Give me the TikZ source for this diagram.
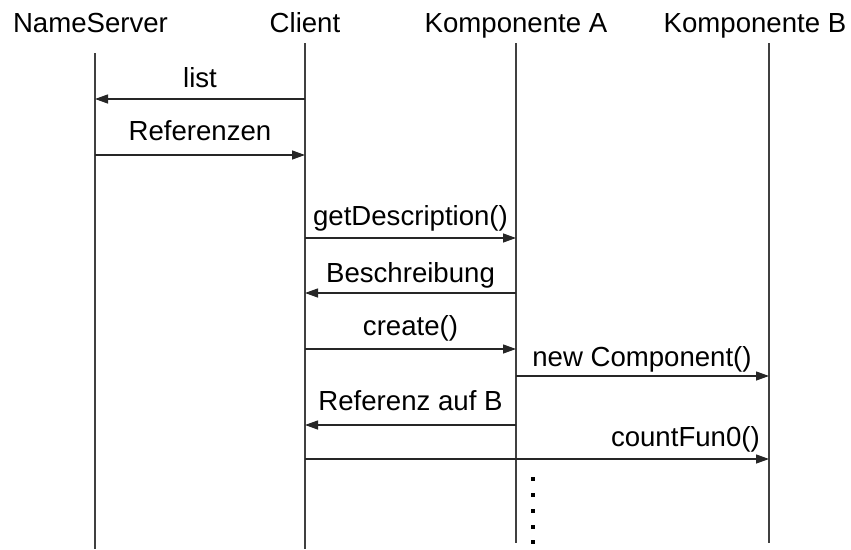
\documentclass[tikz,border=0pt]{standalone}
\usepackage{fontspec}
\setmainfont{Liberation Sans}
\usetikzlibrary{arrows.meta}
\tikzset{
  head/.style={anchor=base, inner sep=0pt, font=\fontsize{27.6}{33}\selectfont},
  lbl/.style={anchor=base, inner sep=0pt, font=\fontsize{27.6}{33}\selectfont},
  life/.style={draw=black!75, line width=1.5pt},
  msg/.style={draw=black!85, line width=1.3pt, -{Triangle[length=13pt,width=9pt]}},
  dot/.style={fill=black, minimum size=3.5pt, inner sep=0pt, rectangle}
}
\begin{document}
\begin{tikzpicture}[x=1pt,y=-1pt]
\useasboundingbox (0,0) rectangle (851,549);
% headers
\node[head] (hns) at (90.5,32) {NameServer};
\node[head] (hcl) at (305,32) {Client};
\node[head] (ha) at (516,32) {Komponente A};
\node[head] (hb) at (755,32) {Komponente B};
% lifelines
\coordinate (nsT) at (95,53);  \coordinate (nsB) at (95,549);
\coordinate (clT) at (305,43); \coordinate (clB) at (305,549);
\coordinate (aT) at (516,43);  \coordinate (aB) at (516,543);
\coordinate (bT) at (769,43);  \coordinate (bB) at (769,543);
\draw[life] (nsT) -- (nsB);
\draw[life] (clT) -- (clB);
\draw[life] (aT) -- (aB);
\draw[life] (bT) -- (bB);
% messages
\draw[msg] (clT |- 0,99) -- (nsT |- 0,99);
\node[lbl] (l1) at (200,87) {list};
\draw[msg] (nsT |- 0,155) -- (clT |- 0,155);
\node[lbl] (l2) at (200,140) {Referenzen};
\draw[msg] (clT |- 0,238) -- (aT |- 0,238);
\node[lbl] (l3) at (410.5,225) {getDescription()};
\draw[msg] (aT |- 0,293) -- (clT |- 0,293);
\node[lbl] (l4) at (410.5,282) {Beschreibung};
\draw[msg] (clT |- 0,349) -- (aT |- 0,349);
\node[lbl] (l5) at (410.5,335) {create()};
\draw[msg] (aT |- 0,376) -- (bT |- 0,376);
\node[lbl] (l6) at (642,366) {new Component()};
\draw[msg] (aT |- 0,425) -- (clT |- 0,425);
\node[lbl] (l7) at (410.5,410) {Referenz auf B};
\draw[msg] (clT |- 0,459) -- (bT |- 0,459);
\node[lbl, anchor=base east] (l8) at (760,446) {countFun0()};
% continuation dots
\foreach \i/\yy in {1/479,2/495,3/511,4/527,5/542}
  \node[dot] (d\i) at (533,\yy) {};
\end{tikzpicture}
\end{document}
